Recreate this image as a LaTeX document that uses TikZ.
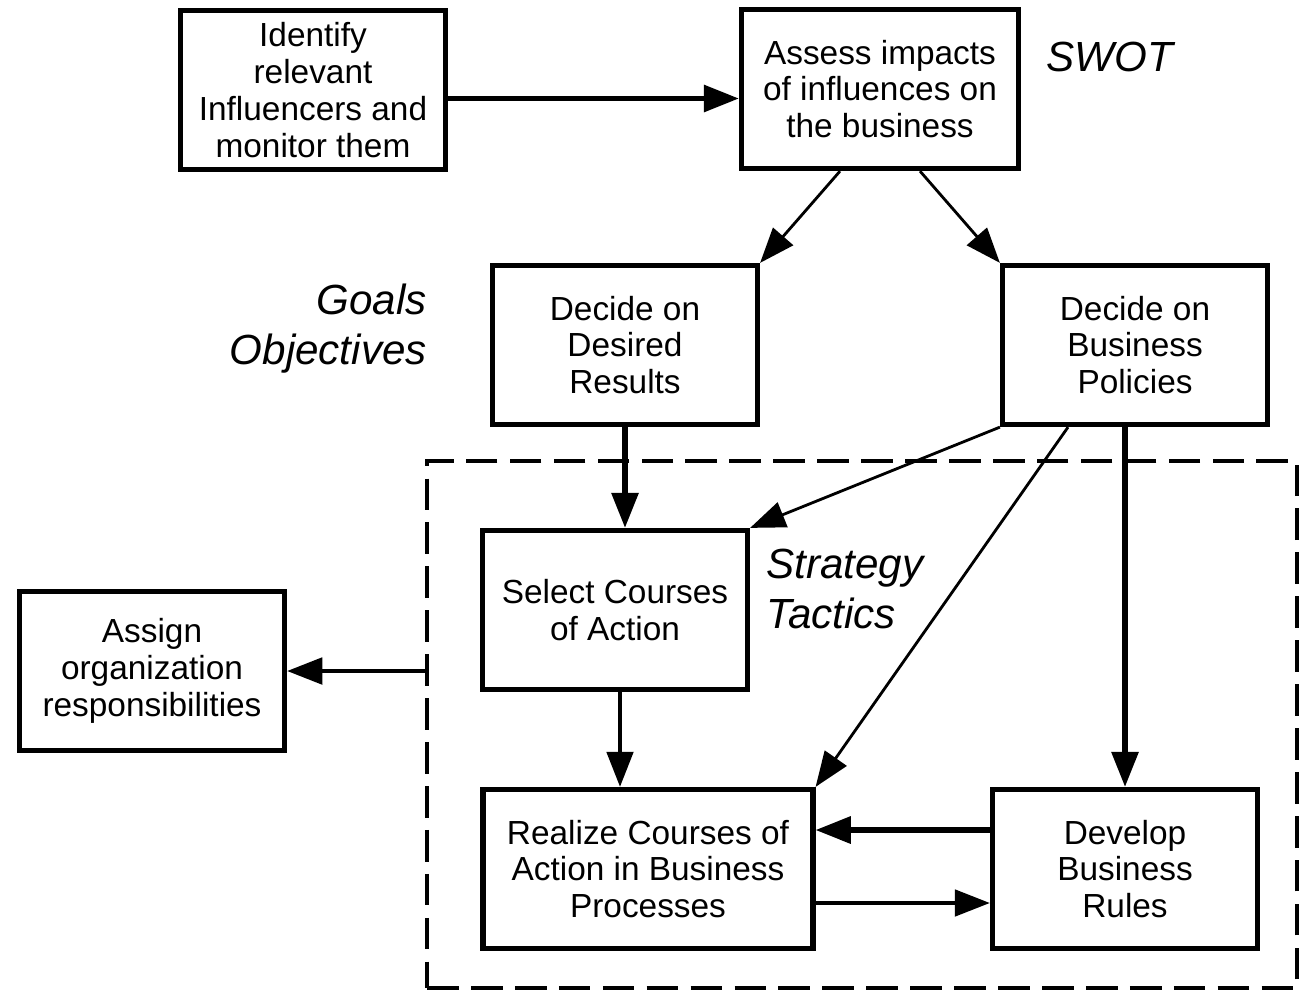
\documentclass[tikz,border=0pt]{standalone}
\usepackage{fontspec}
\setmainfont{Liberation Sans}
\usetikzlibrary{arrows.meta}

\begin{document}
\begin{tikzpicture}[
  x=0.02cm, y=-0.02cm,
  box/.style={draw, line width=3pt, minimum width=5.3cm, minimum height=3.18cm,
    align=center, font=\fontsize{19}{21}\selectfont, inner sep=2pt},
  note/.style={font=\fontsize{24}{28.5}\selectfont\itshape, inner sep=0pt},
  tip/.style={-{Triangle[length=20pt,width=15pt]}},
  heavy/.style={tip, line width=3pt},
  medium/.style={tip, line width=2.3pt},
  light/.style={tip, line width=1.6pt},
]
\useasboundingbox (0,0) rectangle (1301,991);
% frame round the strategy part
\node[draw, dash pattern=on 18pt off 7pt, line width=2.2pt,
  minimum width=17.4cm, minimum height=10.54cm] (frame) at (862,724.5) {};
% boxes
\node[box] (ident) at (313,90) {Identify\\relevant\\Influencers and\\monitor them};
\node[box, minimum width=5.54cm] (assess) at (880,89) {Assess impacts\\of influences on\\the business};
\node[box] (results) at (625,345) {Decide on\\Desired\\Results};
\node[box] (policies) at (1135,345) {Decide on\\Business\\Policies};
\node[box] (select) at (615,610) {Select Courses\\of Action};
\node[box] (assign) at (152,671) {Assign\\organization\\responsibilities};
\node[box, minimum width=6.6cm] (realize) at (648,869) {Realize Courses of\\Action in Business\\Processes};
\node[box] (rules) at (1125,869) {Develop\\Business\\Rules};
% italic notes
\node[note, anchor=west] (swot) at (1046,57) {SWOT};
\node[note, anchor=east, align=right] (goals) at (427,329) {Goals\\Objectives};
\node[note, anchor=west, align=left] (strat) at (766,589) {Strategy\\Tactics};
% connectors
\draw[heavy] ([yshift=-0.17cm]ident.east) -- ([yshift=-0.17cm]ident.east -| assess.west);
\draw[light] ([xshift=-0.8cm]assess.south) -- (results.north east);
\draw[light] ([xshift=0.8cm]assess.south) -- (policies.north west);
\draw[heavy] (results.south) -- (results.south |- select.north);
\draw[light] (policies.south west) -- (select.north east);
\draw[light] ([xshift=-1.34cm]policies.south) -- (realize.north east);
\draw[heavy] (rules.north |- policies.south) -- (rules.north);
\draw[medium] ([xshift=0.1cm]select.south) -- ([xshift=0.1cm]select.south |- realize.north);
\draw[heavy] ([yshift=0.78cm]rules.west) -- ([yshift=0.78cm]rules.west -| realize.east);
\draw[medium] ([yshift=-0.68cm]realize.east) -- ([yshift=-0.68cm]realize.east -| rules.west);
\draw[medium] (frame.west |- assign.east) -- (assign.east);
\end{tikzpicture}
\end{document}
